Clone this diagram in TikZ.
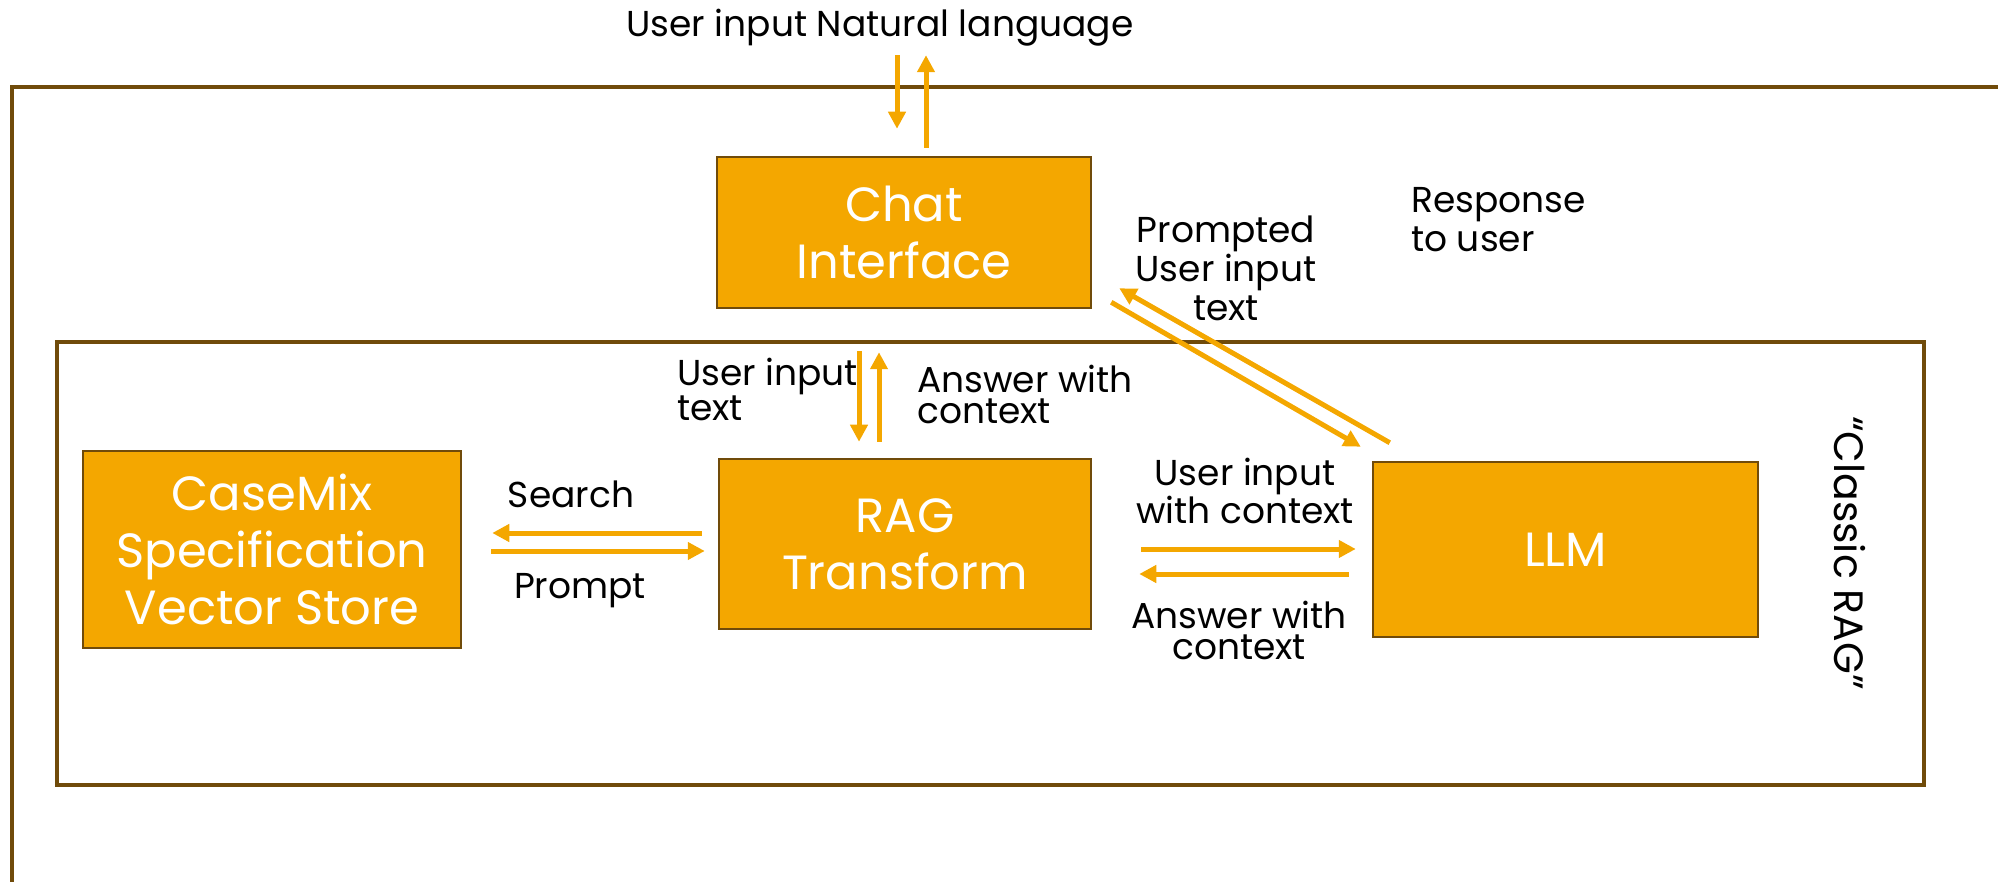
\documentclass[tikz,border=0pt]{standalone}
\usepackage{fontspec}
\setmainfont{Poppins}
\usetikzlibrary{arrows.meta}
\definecolor{frame}{RGB}{112,75,10}
\definecolor{gold}{RGB}{244,167,0}
\newcommand{\lblfont}{\fontsize{36}{39}\selectfont}
\newcommand{\lbltight}{\fontsize{36}{31}\selectfont}
\newcommand{\boxfont}{\fontsize{48}{57}\selectfont}
\tikzset{
  blk/.style={draw=frame, line width=2.5pt, fill=gold, text=white, font=\boxfont, align=center, inner sep=0pt},
  arr/.style={draw=gold, line width=5pt, -{Triangle[width=17pt,length=17pt]}},
  lbl/.style={font=\lblfont, inner sep=0pt, text=black},
  tight/.style={font=\lbltight},
  fr/.style={draw=frame, line width=4pt},
}
\begin{document}
\begin{tikzpicture}[x=1pt,y=-1pt]
\useasboundingbox (0,0) rectangle (1998,882);

% outer frame (runs past the page on the right and bottom) and the RAG group
\draw[fr] (12,882) |- (1998,87);
\draw[fr] (57,342) rectangle (1924,785);

% blocks
\node[blk, minimum width=374pt, minimum height=151pt] (chat) at (904,232.5) {Chat\\Interface};
\node[blk, minimum width=378pt, minimum height=197pt] (casemix) at (272,549.5) {CaseMix\\Specification\\Vector Store};
\node[blk, minimum width=372pt, minimum height=170pt] (rag) at (905,544) {RAG\\Transform};
\node[blk, minimum width=385pt, minimum height=175pt] (llm) at (1565.5,549.5) {LLM};

% labels (multi-line ones are placed by the baseline of their last line)
\node[lbl, anchor=base, text depth=0pt] (nl) at (880,37) {User input Natural language};
\node[lbl, anchor=base west, align=left] (resp) at (1411,252) {Response\\to user};
\node[lbl, anchor=base, align=center] (prompted) at (1226,321) {Prompted\\User input\\text};
\node[lbl, tight, anchor=base west, align=left] (uit) at (677,421) {User input\\text};
\node[lbl, tight, anchor=base west, align=left] (awc1) at (917,424) {Answer with\\context};
\node[lbl, anchor=base] (search) at (571,507) {Search};
\node[lbl, anchor=base] (prompt) at (580,598) {Prompt};
\node[lbl, tight, anchor=base, align=center] (uiwc) at (1245,523) {User input\\with context};
\node[lbl, tight, anchor=base, align=center] (awc2) at (1239,659) {Answer with\\context};
\node[lbl, font=\fontsize{41}{48}\selectfont, rotate=-90] (classic) at (1850,553) {“Classic RAG”};

% user <-> chat interface
\draw[arr, shorten <=18pt, shorten >=27pt] ([xshift=17pt]nl.south) -- ([xshift=17pt]nl.south |- chat.north);
\draw[arr, shorten <=8pt, shorten >=18pt] ([xshift=46pt]nl.south |- chat.north) -- ([xshift=46pt]nl.south);

% chat interface <-> RAG transform
\draw[arr, shorten <=42pt, shorten >=16pt] ([xshift=-45pt]chat.south) -- ([xshift=-45pt]chat.south |- rag.north);
\draw[arr, shorten <=16pt, shorten >=43pt] ([xshift=-25pt]chat.south |- rag.north) -- ([xshift=-25pt]chat.south);

% RAG transform <-> vector store
\draw[arr, shorten <=16pt, shorten >=30pt] ([yshift=11pt]rag.west) -- ([yshift=11pt]rag.west -| casemix.east);
\draw[arr, shorten <=29pt, shorten >=13pt] ([yshift=-7pt]rag.west -| casemix.east) -- ([yshift=-7pt]rag.west);

% RAG transform <-> LLM
\draw[arr, shorten <=49pt, shorten >=16pt] ([yshift=-5pt]rag.east) -- ([yshift=-5pt]rag.east -| llm.west);
\draw[arr, shorten <=23pt, shorten >=47pt] ([yshift=-30pt]rag.east -| llm.west) -- ([yshift=-30pt]rag.east);

% LLM <-> chat interface
\draw[arr] ([shift={(18,-18)}]llm.north west) -- ([shift={(27,-21)}]chat.south east);
\draw[arr] ([shift={(19,-7)}]chat.south east) -- ([shift={(-11,-14)}]llm.north west);
\end{tikzpicture}
\end{document}
